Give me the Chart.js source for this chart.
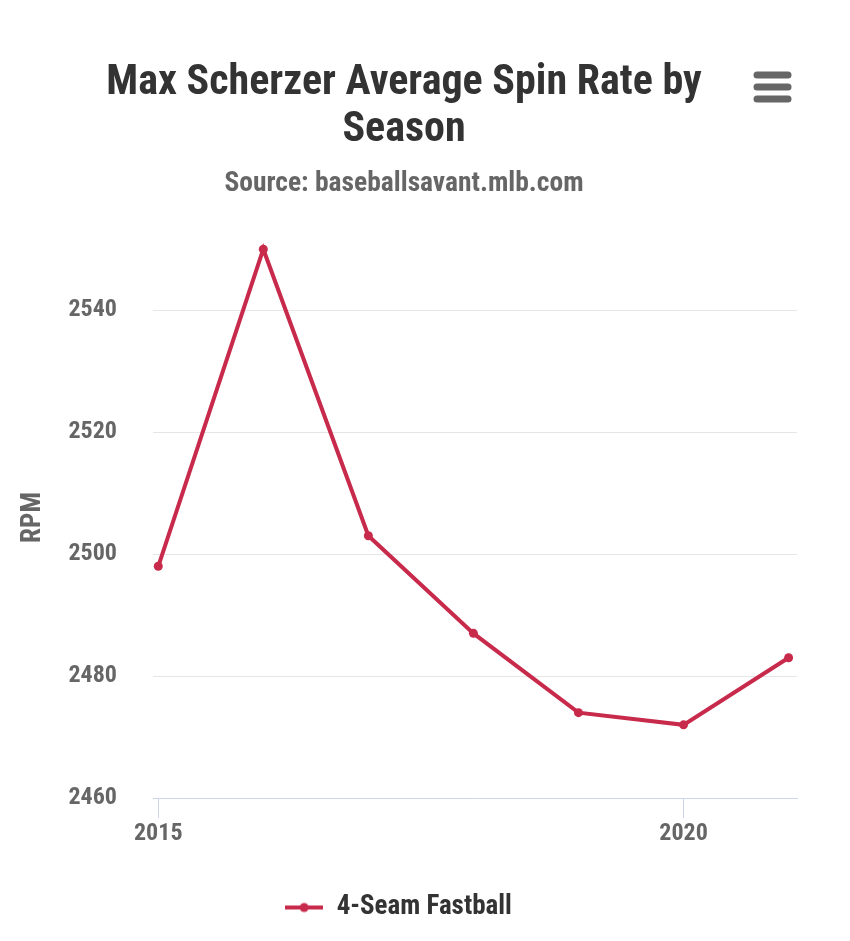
<!DOCTYPE html>
<html>
<head>
<meta charset="utf-8">
<script src="https://cdn.jsdelivr.net/npm/chart.js@4.4.1/dist/chart.umd.min.js"></script>
<style>
  html, body { margin: 0; padding: 0; background: #ffffff; }
  #wrap { width: 850px; height: 941px; position: relative; }
</style>
</head>
<body>
<div id="wrap"><canvas id="c"></canvas></div>
<script>
// ---- data ----
const TITLE_LINES = ['Max Scherzer Average Spin Rate by', 'Season'];
const SUBTITLE = 'Source: baseballsavant.mlb.com';
const Y_TITLE = 'RPM';
const SERIES_NAME = '4-Seam Fastball';
const YEARS = [2015, 2016, 2017, 2018, 2019, 2020, 2021];
const SPIN_RPM = [2498, 2550, 2503, 2487, 2474, 2472, 2483];
const X_TICKS = [2015, 2020];
const Y_TICKS = [2460, 2480, 2500, 2520, 2540];

const FONT = "'Liberation Sans Narrow', 'Roboto Condensed', Roboto, sans-serif";
const LINE_COLOR = '#c82a4b';

// legend symbol: line with a dot
const sym = document.createElement('canvas');
sym.width = 38; sym.height = 12;
(function () {
  const g = sym.getContext('2d');
  g.strokeStyle = LINE_COLOR; g.lineWidth = 4;
  g.beginPath(); g.moveTo(0, 6); g.lineTo(38, 6); g.stroke();
  g.fillStyle = LINE_COLOR;
  g.beginPath(); g.arc(19, 6, 4.5, 0, Math.PI * 2); g.fill();
})();

const header = {
  id: 'header',
  afterDraw(chart) {
    const ctx = chart.ctx;
    ctx.save();
    ctx.textAlign = 'center';
    ctx.textBaseline = 'alphabetic';
    ctx.fillStyle = '#333333';
    ctx.font = 'bold 42px ' + FONT;
    ctx.fillText(TITLE_LINES[0], 404, 94);
    ctx.fillText(TITLE_LINES[1], 404, 141);
    ctx.fillStyle = '#666666';
    ctx.font = 'bold 27.5px ' + FONT;
    ctx.fillText(SUBTITLE, 404, 191);
    // context menu icon
    ctx.strokeStyle = '#666666';
    ctx.lineWidth = 7;
    ctx.lineCap = 'round';
    [75, 87, 99].forEach(y => {
      ctx.beginPath(); ctx.moveTo(757, y); ctx.lineTo(788, y); ctx.stroke();
    });
    ctx.restore();
  }
};

new Chart(document.getElementById('c'), {
  type: 'line',
  data: {
    datasets: [{
      label: SERIES_NAME,
      data: YEARS.map((x, i) => ({ x: x, y: SPIN_RPM[i] })),
      borderColor: LINE_COLOR,
      backgroundColor: LINE_COLOR,
      borderWidth: 4,
      pointStyle: 'circle',
      pointRadius: 4.5,
      pointHoverRadius: 4.5,
      pointBackgroundColor: LINE_COLOR,
      pointBorderWidth: 0,
      tension: 0
    }]
  },
  options: {
    responsive: true,
    maintainAspectRatio: false,
    animation: false,
    layout: { padding: { top: 237, right: 53, bottom: 10, left: 0 } },
    plugins: {
      legend: {
        position: 'bottom',
        labels: {
          usePointStyle: true,
          pointStyleWidth: 38,
          color: '#333333',
          font: { family: FONT, size: 27, weight: 'bold' },
          padding: 10,
          generateLabels(chart) {
            return [{
              text: SERIES_NAME, fillStyle: LINE_COLOR, strokeStyle: LINE_COLOR,
              lineWidth: 0, pointStyle: sym, hidden: false, datasetIndex: 0, fontColor: '#333333'
            }];
          }
        }
      },
      title: { display: false },
      tooltip: { enabled: false }
    },
    scales: {
      x: {
        type: 'linear',
        min: 2014.95,
        max: 2021.08,
        afterBuildTicks(scale) { scale.ticks = X_TICKS.map(v => ({ value: v })); },
        afterFit(scale) { scale.height = 86; },
        grid: { display: true, drawOnChartArea: false, drawTicks: true, tickLength: 20, color: '#ccd6eb', lineWidth: 1 },
        border: { display: true, color: '#ccd6eb', width: 1 },
        ticks: {
          autoSkip: false, maxRotation: 0, padding: 2,
          color: '#666666',
          font: { family: FONT, size: 24, weight: 'bold' },
          callback: v => String(v)
        }
      },
      y: {
        type: 'linear',
        min: 2460,
        max: 2552,
        afterBuildTicks(scale) { scale.ticks = Y_TICKS.map(v => ({ value: v })); },
        afterFit(scale) { scale.width = 153; },
        grid: { color: '#e6e6e6', lineWidth: 1, drawTicks: false },
        border: { display: false },
        ticks: {
          padding: 36,
          color: '#666666',
          font: { family: FONT, size: 24, weight: 'bold' },
          callback: v => String(v)
        },
        title: {
          display: true,
          text: Y_TITLE,
          color: '#666666',
          font: { family: FONT, size: 27, weight: 'bold' },
          padding: { top: 17, bottom: 0 }
        }
      }
    }
  },
  plugins: [header]
});
</script>
</body>
</html>
